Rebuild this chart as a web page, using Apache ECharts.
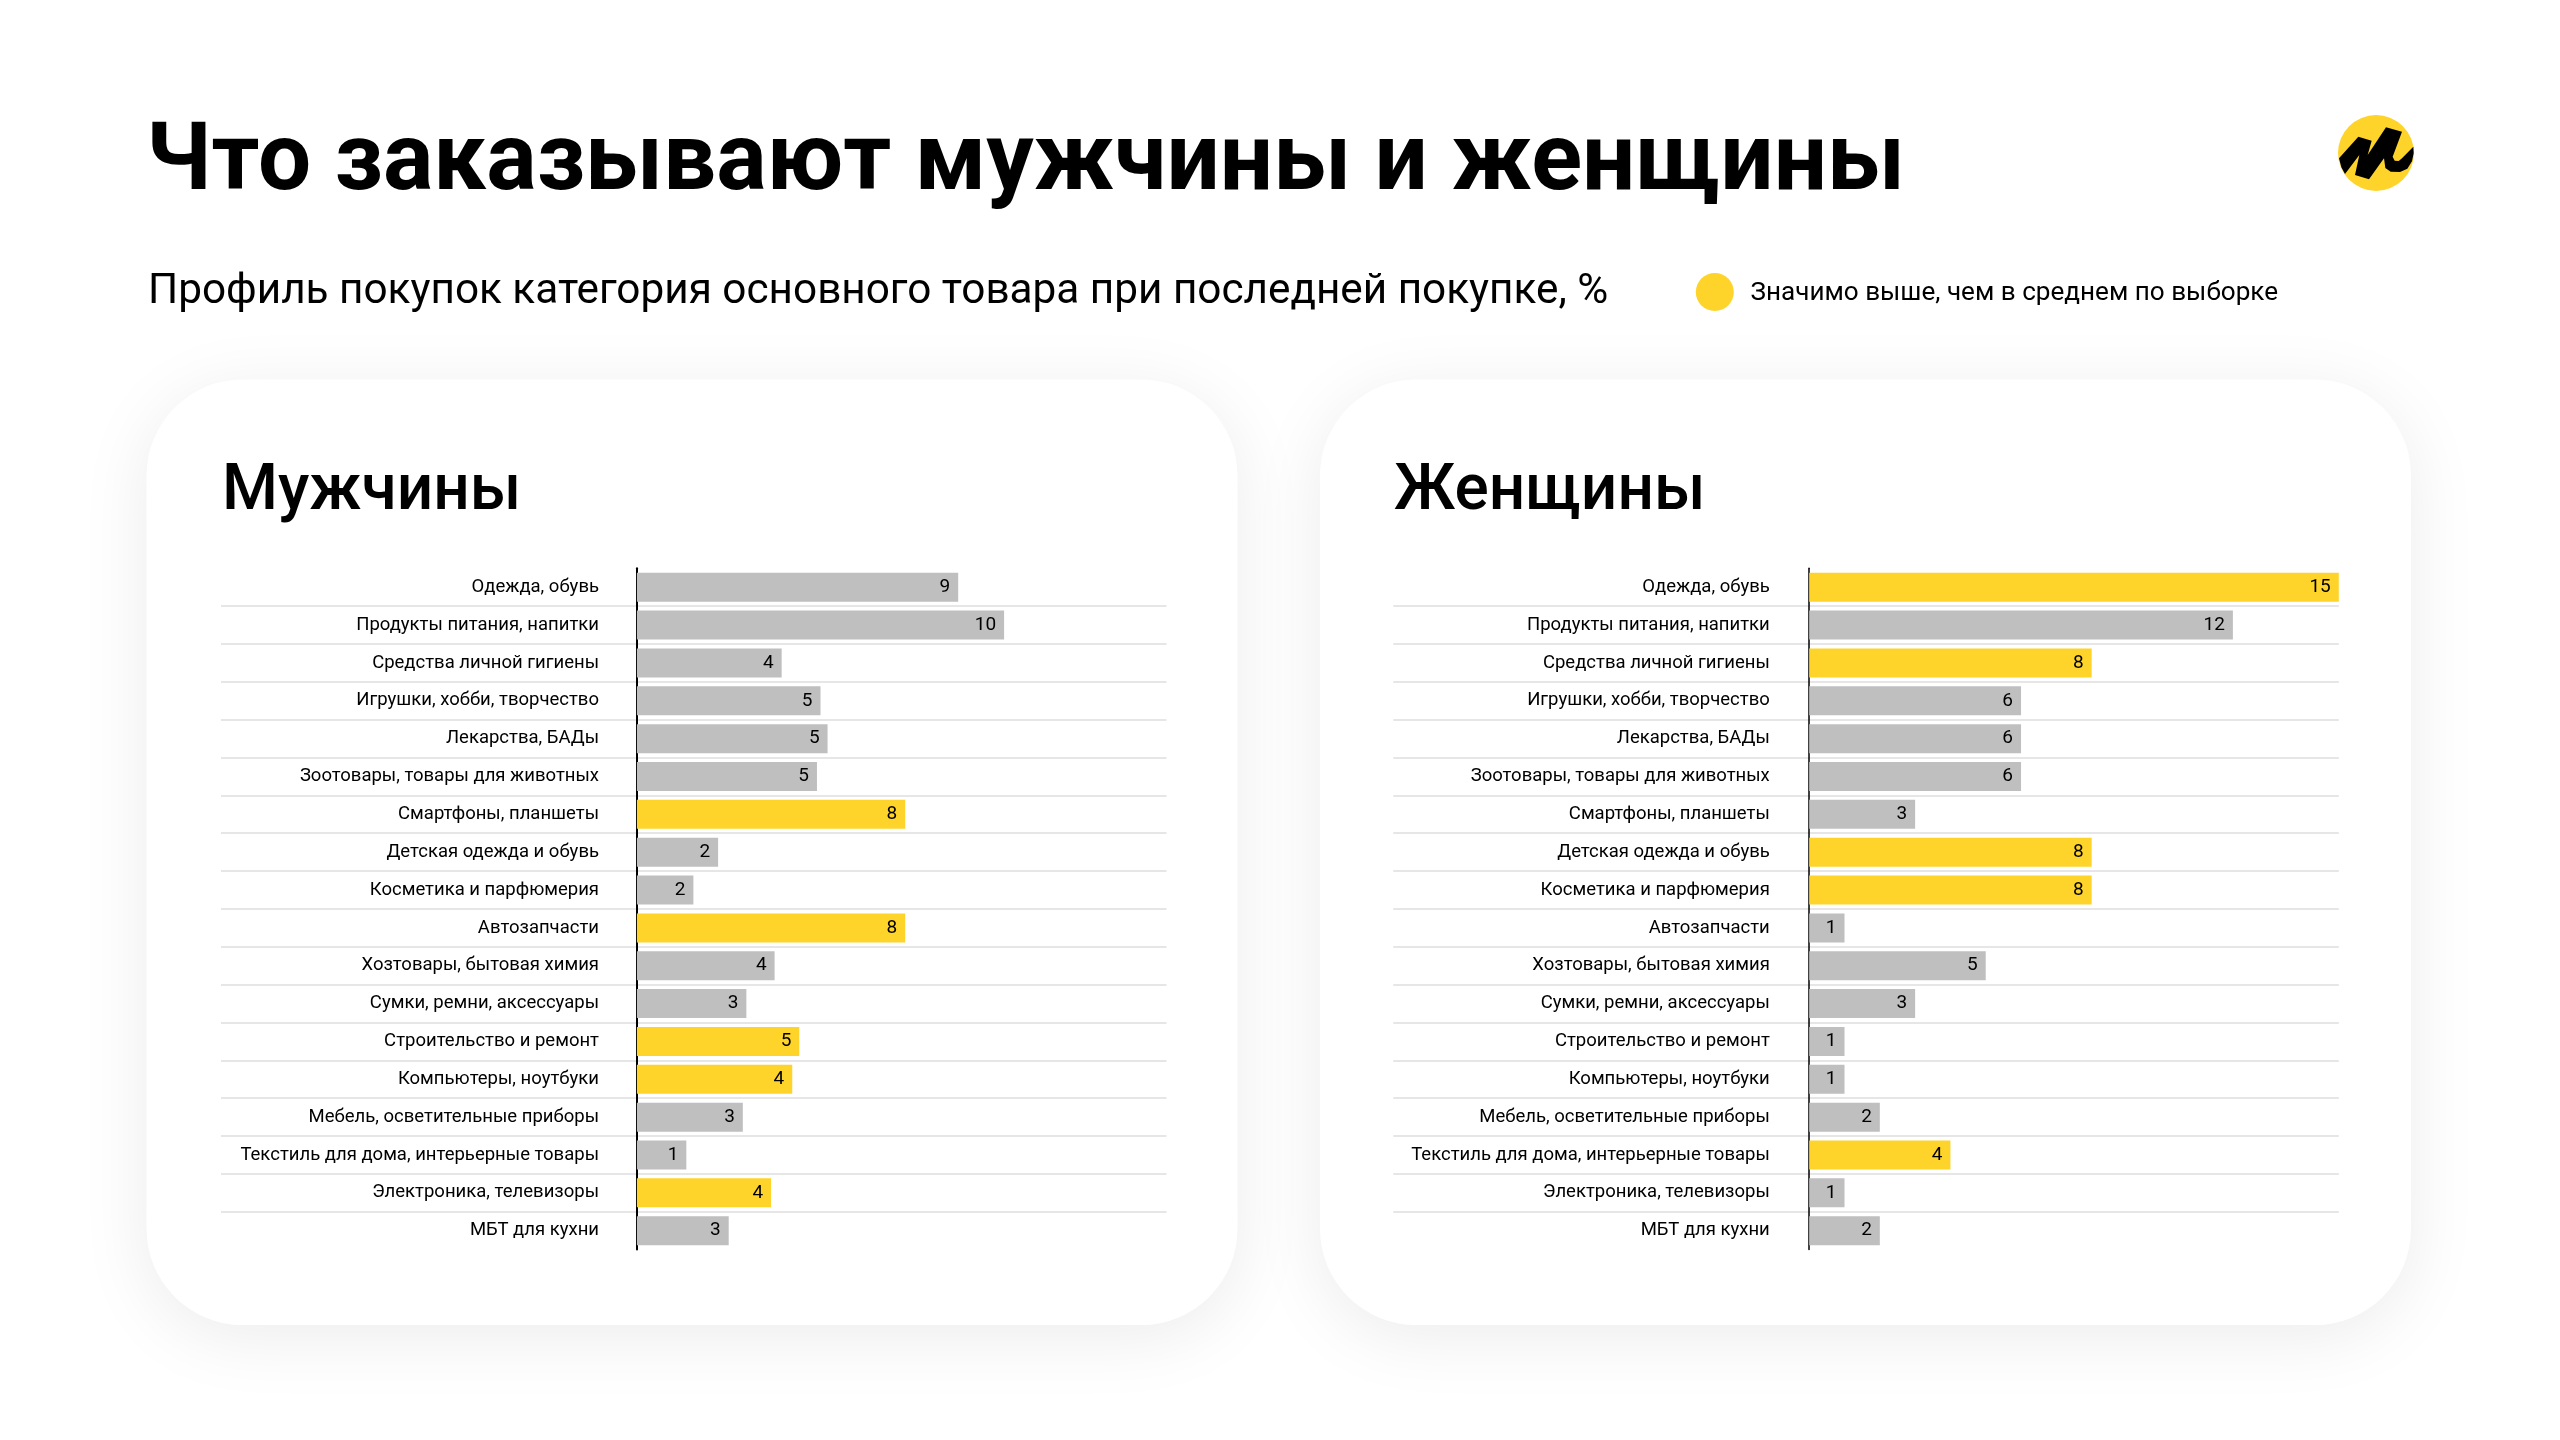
<!DOCTYPE html>
<html>
<head>
<meta charset="utf-8">
<title>Что заказывают мужчины и женщины</title>
<script src="https://cdn.jsdelivr.net/npm/echarts@6/dist/echarts.min.js"></script>
<style>
  html, body { margin: 0; padding: 0; background: #fff; }
  #chart { width: 2560px; height: 1440px; }
</style>
</head>
<body>
<div id="chart"></div>
<script>
var categories = [
  'Одежда, обувь', 'Продукты питания, напитки', 'Средства личной гигиены',
  'Игрушки, хобби, творчество', 'Лекарства, БАДы', 'Зоотовары, товары для животных',
  'Смартфоны, планшеты', 'Детская одежда и обувь', 'Косметика и парфюмерия',
  'Автозапчасти', 'Хозтовары, бытовая химия', 'Сумки, ремни, аксессуары',
  'Строительство и ремонт', 'Компьютеры, ноутбуки', 'Мебель, осветительные приборы',
  'Текстиль для дома, интерьерные товары', 'Электроника, телевизоры', 'МБТ для кухни'
];
// bar lengths, labels show them rounded
var menValues = [9.1, 10.4, 4.1, 5.2, 5.4, 5.1, 7.6, 2.3, 1.6, 7.6, 3.9, 3.1, 4.6, 4.4, 3.0, 1.4, 3.8, 2.6];
var womenValues = [15, 12, 8, 6, 6, 6, 3, 8, 8, 1, 5, 3, 1, 1, 2, 4, 1, 2];
// indexes of the categories that are significantly above average
var menHigh = [6, 9, 12, 13, 16];
var womenHigh = [0, 2, 7, 8, 15];

var YELLOW = '#fed42b';
var GRAY = '#bfbfbf';
var FONT = 'Roboto';

var chart = echarts.init(document.getElementById('chart'));

function makeAxes(i, axisWidth, labelMargin) {
  return {
    x: {
      type: 'value', gridIndex: i, show: false,
      min: -11.78, max: 15 // negative part is the room for the labels and row lines
    },
    y: {
      type: 'category', gridIndex: i, data: categories, inverse: true,
      axisLine: { onZero: true, lineStyle: { color: '#000', width: axisWidth } },
      axisTick: { show: false },
      // labels stay at the grid edge, the negative margin brings them next to the zero line
      axisLabel: { color: '#000', fontFamily: FONT, fontSize: 18.5, margin: labelMargin, padding: [4, 0, 0, 0] },
      splitLine: {
        show: true, showMinLine: false, showMaxLine: false,
        lineStyle: { color: '#e6e6e6', width: 2 }
      }
    }
  };
}

function makeSeries(i, name, values, high) {
  return {
    type: 'bar', name: name, xAxisIndex: i, yAxisIndex: i,
    data: values, barWidth: 29,
    itemStyle: {
      color: function (p) { return high.indexOf(p.dataIndex) >= 0 ? YELLOW : GRAY; }
    },
    label: {
      show: true, position: 'insideRight', distance: 8,
      color: '#000', fontFamily: FONT, fontSize: 19,
      formatter: function (p) { return Math.round(p.value); }
    }
  };
}

function card(x) {
  return {
    type: 'rect', z: -10,
    shape: { x: x, y: 379.5, width: 1091, height: 945.5, r: 96 },
    style: { fill: '#fff', shadowBlur: 70, shadowOffsetY: 12, shadowColor: 'rgba(0,0,0,0.08)' }
  };
}

function text(x, y, str, size, weight) {
  return {
    type: 'text', x: x, y: y, z: 5,
    style: { text: str, fill: '#000', font: weight + ' ' + size + 'px ' + FONT, verticalAlign: 'middle' }
  };
}

var left = makeAxes(0, 2, -378);
var right = makeAxes(1, 1.5, -376.5);

chart.setOption({
  animation: false,
  backgroundColor: '#fff',
  grid: [
    { left: 221, top: 568.3, width: 945.5, height: 681.3, outerBoundsMode: 'none' },
    { left: 1393.3, top: 568.3, width: 945.5, height: 681.3, outerBoundsMode: 'none' }
  ],
  xAxis: [left.x, right.x],
  yAxis: [left.y, right.y],
  series: [
    makeSeries(0, 'Мужчины', menValues, menHigh),
    makeSeries(1, 'Женщины', womenValues, womenHigh)
  ],
  graphic: [
    card(146.5),
    card(1320),
    text(146, 165, 'Что заказывают мужчины и женщины', 94.2, 700),
    text(148, 292, 'Профиль покупок категория основного товара при последней покупке, %', 42.3, 400),
    { type: 'circle', z: 5, shape: { cx: 1714.8, cy: 292, r: 19 }, style: { fill: YELLOW } },
    text(1750.5, 293, 'Значимо выше, чем в среднем по выборке', 26.1, 400),
    text(222, 493, 'Мужчины', 64, 500),
    text(1394, 493, 'Женщины', 64, 500),
    { type: 'circle', z: 5, shape: { cx: 2376, cy: 153, r: 38 }, style: { fill: YELLOW } },
    {
      type: 'polygon', z: 6, x: 2300, y: 90, scaleX: 1 / 3, scaleY: 1 / 3,
      shape: {
        points: [[117, 205], [175, 140], [215, 152], [203, 195], [258, 112], [306, 125], [278, 200],
          [284, 212], [296, 213], [306, 205], [340, 170], [341, 190], [336, 214], [322, 236], [300, 246],
          [272, 245], [256, 234], [252, 205], [207, 268], [165, 255], [178, 195], [135, 252], [124, 232]]
      },
      style: { fill: '#000' }
    }
  ]
});
</script>
</body>
</html>
